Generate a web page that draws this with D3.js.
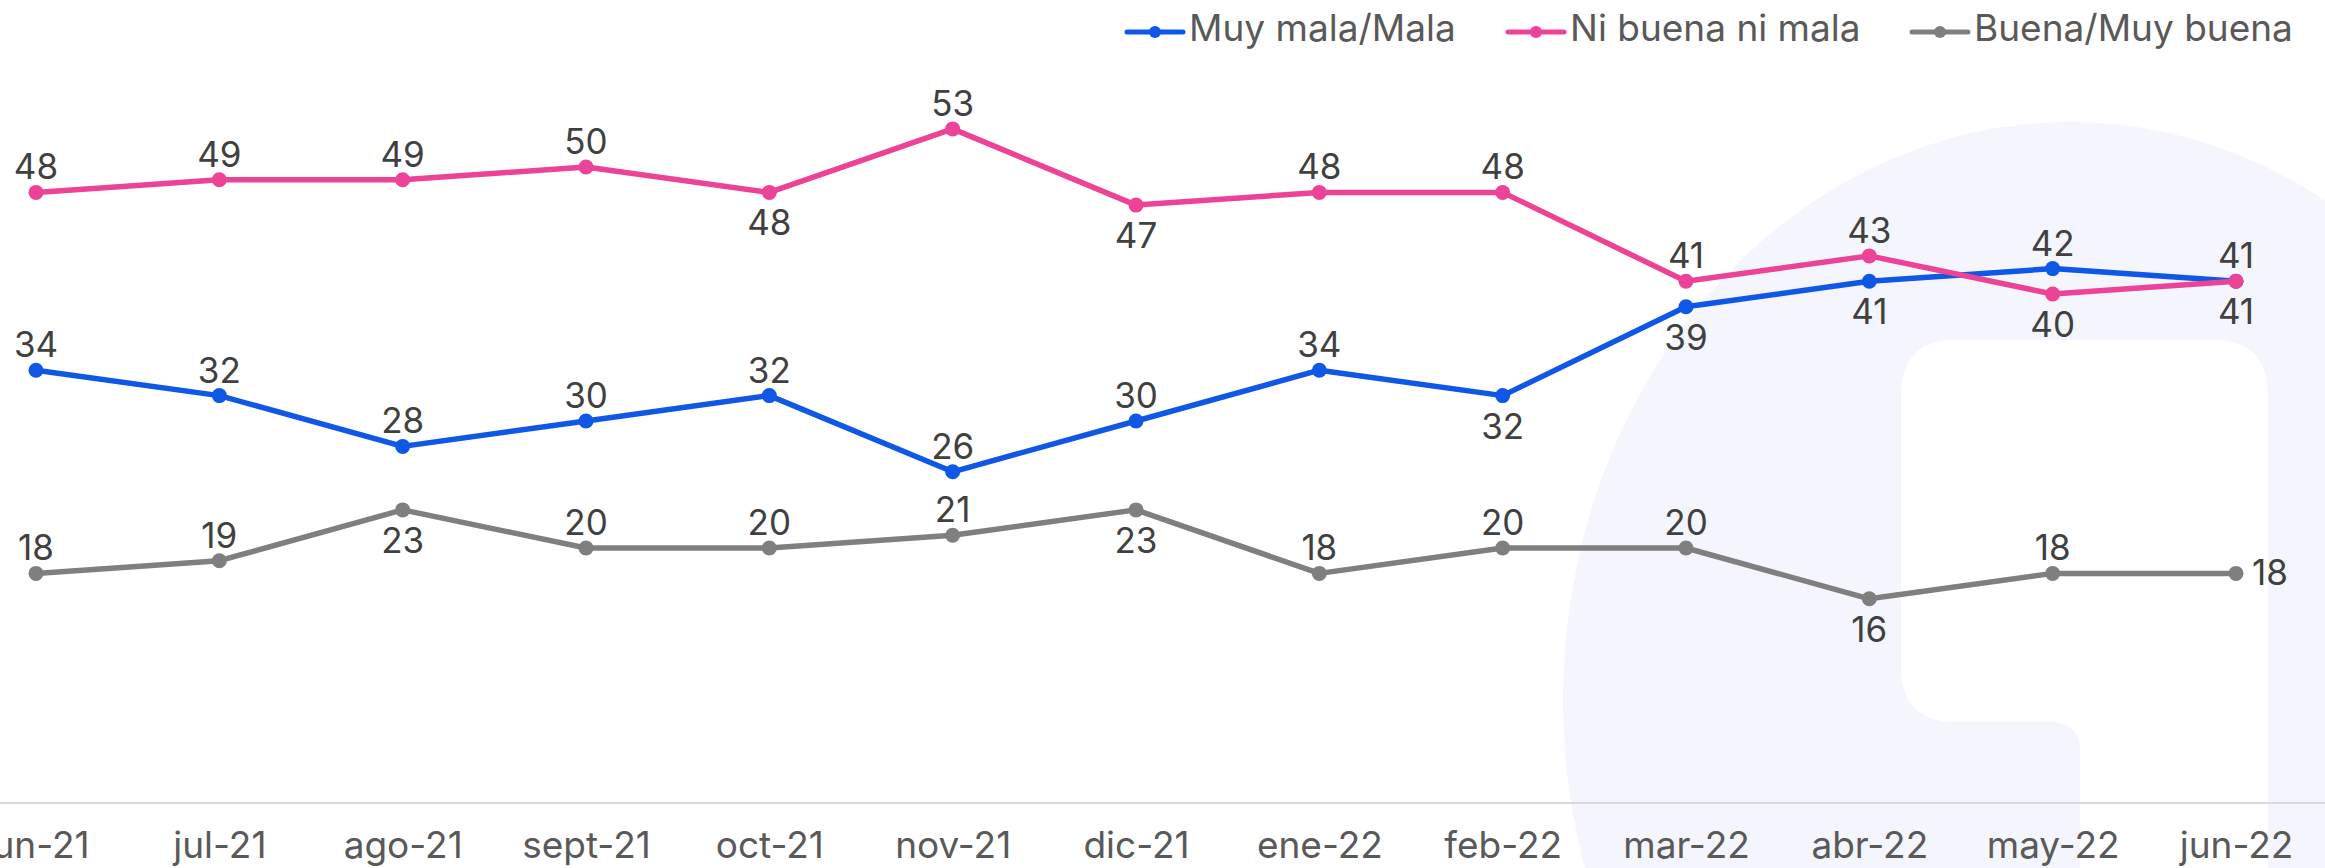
<!DOCTYPE html>
<html>
<head>
<meta charset="utf-8">
<script src="https://cdn.jsdelivr.net/npm/d3@7"></script>
<style>
  html, body { margin: 0; padding: 0; background: #ffffff; overflow: hidden; }
  svg { display: block; font-family: Inter, "Noto Sans", sans-serif; }
</style>
</head>
<body>
<svg id="chart" width="2325" height="868"></svg>
<script>
// Monthly survey series
const months = ["jun-21", "jul-21", "ago-21", "sept-21", "oct-21", "nov-21", "dic-21",
                "ene-22", "feb-22", "mar-22", "abr-22", "may-22", "jun-22"];
const muyMalaMala   = [34, 32, 28, 30, 32, 26, 30, 34, 32, 39, 41, 42, 41];
const niBuenaNiMala = [48, 49, 49, 50, 48, 53, 47, 48, 48, 41, 43, 40, 41];
const buenaMuyBuena = [18, 19, 23, 20, 20, 21, 23, 18, 20, 20, 16, 18, 18];
const seriesNames   = ["Muy mala/Mala", "Ni buena ni mala", "Buena/Muy buena"];

// Where each value label sits relative to its point
const labelSide = {
  "Muy mala/Mala":    ["a","a","a","a","a","a","a","a","b","b","b","a","b"],
  "Ni buena ni mala": ["a","a","a","a","b","a","b","a","a","a","a","b","a"],
  "Buena/Muy buena":  ["a","a","b","a","a","a","b","a","a","a","b","a","r"]
};

const W = 2325, H = 868;
const svg = d3.select("#chart");

const colors = {
  "Muy mala/Mala": "#0f57e6",
  "Ni buena ni mala": "#ec4399",
  "Buena/Muy buena": "#7f7f7f"
};

const series = [
  { name: seriesNames[0], values: muyMalaMala },
  { name: seriesNames[1], values: niBuenaNiMala },
  { name: seriesNames[2], values: buenaMuyBuena }
];

// Pale logo watermark in the background
const wm = svg.append("g").attr("class", "watermark");
wm.append("ellipse")
  .attr("cx", 2070).attr("cy", 700).attr("rx", 507).attr("ry", 578)
  .attr("fill", "#f4f5fd");
wm.append("path")
  .attr("fill", "#ffffff")
  .attr("d", [
    "M1956,340 H2213 Q2268,340 2268,395 V868 H2080 V752",
    "Q2080,722 2050,722 H1956 Q1901,722 1901,667 V395 Q1901,340 1956,340 Z"
  ].join(" "));

// Scales
const x = d3.scalePoint().domain(months).range([36, 2236]);
const y = d3.scaleLinear().domain([0, 60]).range([802, 40]);

// Category axis
const xAxis = svg.append("g")
  .attr("transform", `translate(0,${y(0)})`)
  .call(d3.axisBottom(x).tickSize(0).tickPadding(0));
xAxis.select(".domain").remove();
svg.append("line")
  .attr("x1", 0).attr("x2", W)
  .attr("y1", y(0) + 1).attr("y2", y(0) + 1)
  .attr("stroke", "#d9d9d9").attr("stroke-width", 2);
xAxis.selectAll("text")
  .attr("y", 56)
  .attr("dy", null)
  .attr("fill", "#595959")
  .style("font-size", "37px")
  .style("font-family", "Inter, 'Noto Sans', sans-serif");

// Lines and markers
const line = d3.line()
  .x((d, i) => x(months[i]))
  .y(d => y(d));

const plot = svg.append("g");
series.forEach(s => {
  const g = plot.append("g");
  g.append("path")
    .datum(s.values)
    .attr("fill", "none")
    .attr("stroke", colors[s.name])
    .attr("stroke-width", 5.5)
    .attr("stroke-linejoin", "round")
    .attr("d", line);
  g.selectAll("circle")
    .data(s.values)
    .join("circle")
    .attr("cx", (d, i) => x(months[i]))
    .attr("cy", d => y(d))
    .attr("r", 7.5)
    .attr("fill", colors[s.name]);
});

// Value labels
const labels = svg.append("g")
  .attr("fill", "#404040")
  .style("font-size", "35px");
series.forEach(s => {
  labels.selectAll(null)
    .data(s.values)
    .join("text")
    .attr("x", (d, i) => labelSide[s.name][i] === "r" ? x(months[i]) + 16 : x(months[i]))
    .attr("y", (d, i) => {
      const side = labelSide[s.name][i];
      if (side === "a") return y(d) - 13;
      if (side === "b") return y(d) + 43;
      return y(d) + 12;
    })
    .attr("text-anchor", (d, i) => labelSide[s.name][i] === "r" ? "start" : "middle")
    .text(d => d);
});

// Legend
const legendX = [1127, 1508, 1912];
const legend = svg.append("g");
series.forEach((s, i) => {
  const g = legend.append("g").attr("transform", `translate(${legendX[i]},32)`);
  g.append("line")
    .attr("x1", 0).attr("x2", 56).attr("y1", 0).attr("y2", 0)
    .attr("stroke", colors[s.name]).attr("stroke-width", 5)
    .attr("stroke-linecap", "round");
  g.append("circle").attr("cx", 28).attr("cy", 0).attr("r", 6).attr("fill", colors[s.name]);
  g.append("text")
    .attr("x", 62).attr("y", 9)
    .attr("fill", "#595959")
    .style("font-size", "37px")
    .text(s.name);
});
</script>
</body>
</html>
